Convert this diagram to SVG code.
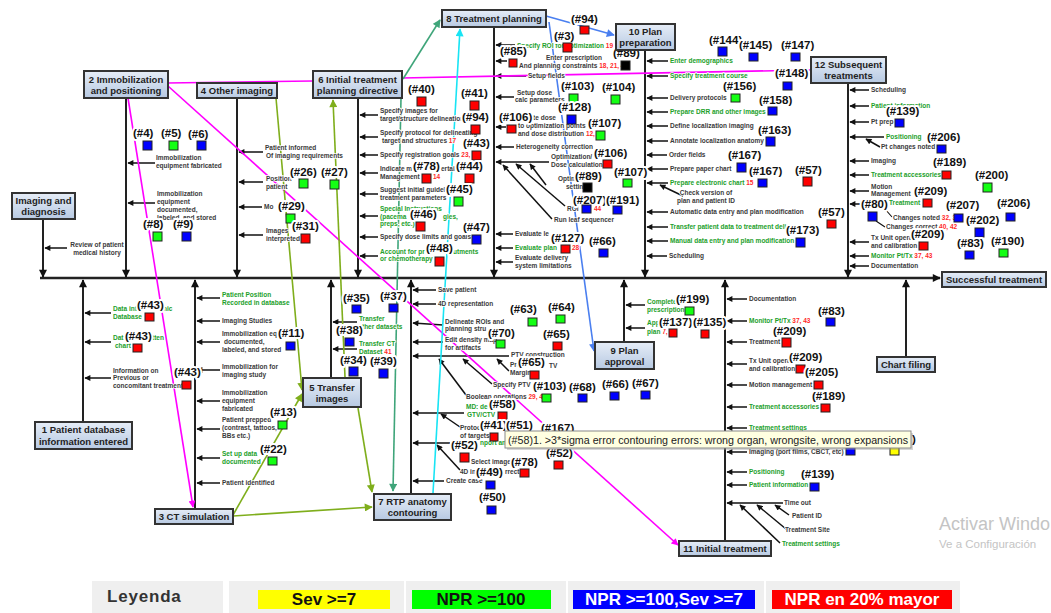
<svg xmlns="http://www.w3.org/2000/svg" width="1051" height="613" viewBox="0 0 1051 613">
<defs>
<linearGradient id="bg" x1="0" y1="0" x2="0" y2="1"><stop offset="0" stop-color="#e6edf7"/><stop offset="1" stop-color="#b7c9e2"/></linearGradient>
<marker id="a" viewBox="0 0 10 10" refX="9" refY="5" markerWidth="9" markerHeight="8" markerUnits="userSpaceOnUse" orient="auto"><path d="M0,0L10,5L0,10z" fill="#111"/></marker>
<marker id="s" viewBox="0 0 10 10" refX="9" refY="5" markerWidth="7" markerHeight="6" markerUnits="userSpaceOnUse" orient="auto"><path d="M0,0L10,5L0,10z" fill="#111"/></marker>
<marker id="mp" viewBox="0 0 10 10" refX="9" refY="5" markerWidth="8" markerHeight="7" markerUnits="userSpaceOnUse" orient="auto"><path d="M0,0L10,5L0,10z" fill="#ff00ff"/></marker>
<marker id="mb" viewBox="0 0 10 10" refX="9" refY="5" markerWidth="9" markerHeight="8" markerUnits="userSpaceOnUse" orient="auto"><path d="M0,0L10,5L0,10z" fill="#4a7ff0"/></marker>
<marker id="mc" viewBox="0 0 10 10" refX="9" refY="5" markerWidth="9" markerHeight="8" markerUnits="userSpaceOnUse" orient="auto"><path d="M0,0L10,5L0,10z" fill="#18e4f4"/></marker>
<marker id="mt" viewBox="0 0 10 10" refX="9" refY="5" markerWidth="9" markerHeight="8" markerUnits="userSpaceOnUse" orient="auto"><path d="M0,0L10,5L0,10z" fill="#3fa57a"/></marker>
<marker id="mo" viewBox="0 0 10 10" refX="9" refY="5" markerWidth="9" markerHeight="8" markerUnits="userSpaceOnUse" orient="auto"><path d="M0,0L10,5L0,10z" fill="#7fae1c"/></marker>
</defs>
<style>
.bx{fill:url(#bg);stroke:#333;stroke-width:2}
.bt{font:bold 9.5px "Liberation Sans",Arial,sans-serif;fill:#222;text-anchor:middle}
.sp{stroke:#222;stroke-width:2.4;fill:none}
.br{stroke:#222;stroke-width:2;fill:none}
.sa{stroke:#111;stroke-width:1.5;fill:none;marker-end:url(#s)}
.dl{stroke:#111;stroke-width:1.1;fill:none}
.t{font:bold 6.5px "Liberation Sans",Arial,sans-serif;fill:#3a3a3a;stroke:#fff;stroke-width:1.6px;paint-order:stroke;stroke-linejoin:round}
.g{fill:#22a02a}
.r{fill:#ff2a2a}
.lb{font:bold 11.5px "Liberation Sans",Arial,sans-serif;fill:#111;stroke:#fff;stroke-width:4px;paint-order:stroke;stroke-linejoin:round}
.q{stroke:#222;stroke-width:1}
.b{fill:#0000ff}.n{fill:#14ff14}.d{fill:#ff0000}.k{fill:#000}.y{fill:#ffff00}
.pk{stroke:#ff00ff;stroke-width:1.6;fill:none}
.bl{stroke:#4a7ff0;stroke-width:1.6;fill:none}
.cy{stroke:#18e4f4;stroke-width:1.6;fill:none}
.tl{stroke:#3fa57a;stroke-width:1.6;fill:none}
.ol{stroke:#7fae1c;stroke-width:1.6;fill:none}
.lg{font:bold 17px "Liberation Sans",Arial,sans-serif;text-anchor:middle}
</style>
<rect width="1051" height="613" fill="#fff"/>

<g id="connectors">
<path class="sp" d="M40,278H940" marker-end="url(#a)"/>
<path class="br" d="M43,219V277" marker-end="url(#a)"/>
<path class="br" d="M126,98V277" marker-end="url(#a)"/>
<path class="br" d="M237,97V277" marker-end="url(#a)"/>
<path class="br" d="M358,98V277" marker-end="url(#a)"/>
<path class="br" d="M494,27V277" marker-end="url(#a)"/>
<path class="br" d="M645,50V277" marker-end="url(#a)"/>
<path class="br" d="M848,83V277" marker-end="url(#a)"/>
<path class="br" d="M83,422V280" marker-end="url(#a)"/>
<path class="br" d="M195,509V280" marker-end="url(#a)"/>
<path class="br" d="M331,378V280" marker-end="url(#a)"/>
<path class="br" d="M411,494V280" marker-end="url(#a)"/>
<path class="br" d="M624,342V280" marker-end="url(#a)"/>
<path class="br" d="M725,541V280" marker-end="url(#a)"/>
<path class="br" d="M906,357V280" marker-end="url(#a)"/>
<path class="sa" d="M67,248H45"/>
<path class="sa" d="M155,163H128"/><path class="sa" d="M155,203H128"/>
<path class="sa" d="M263,152H239"/><path class="sa" d="M263,182H239"/><path class="sa" d="M262,207H239"/><path class="sa" d="M263,235H239"/>
<path class="sa" d="M378,115H360"/><path class="sa" d="M378,137H360"/><path class="sa" d="M378,155H360"/><path class="sa" d="M378,173H360"/><path class="sa" d="M378,194H360"/><path class="sa" d="M378,216H360"/><path class="sa" d="M378,237H360"/><path class="sa" d="M378,256H360"/>
<path class="sa" d="M515,45H496"/><path class="sa" d="M507,61H496"/><path class="sa" d="M526,76H496"/><path class="sa" d="M514,97H496"/><path class="sa" d="M506,127H496"/><path class="sa" d="M514,147H496"/><path class="sa" d="M549,162H496"/>
<path class="sa" d="M546,185L530,164"/><path class="sa" d="M565,206L516,164"/><path class="sa" d="M552,219L503,165"/>
<path class="sa" d="M513,234H496"/><path class="sa" d="M513,248H496"/><path class="sa" d="M513,262H496"/>
<path class="sa" d="M668,61H647"/><path class="sa" d="M668,76H647"/><path class="sa" d="M668,98H647"/><path class="sa" d="M668,112H647"/><path class="sa" d="M668,126H647"/><path class="sa" d="M668,141H647"/><path class="sa" d="M667,155H647"/><path class="sa" d="M668,169H647"/><path class="sa" d="M668,183H647"/><path class="sa" d="M683,196L660,185"/><path class="sa" d="M668,212H647"/><path class="sa" d="M668,227H647"/><path class="sa" d="M668,241H647"/><path class="sa" d="M667,256H647"/>
<path class="sa" d="M869,90H850"/><path class="sa" d="M869,106H850"/><path class="sa" d="M869,122H850"/><path class="sa" d="M884,137H850"/><path class="sa" d="M880,147L866,139"/><path class="sa" d="M869,161H850"/><path class="sa" d="M869,175H850"/><path class="sa" d="M869,191H850"/><path class="sa" d="M861,204H850"/><path class="sa" d="M869,242H850"/><path class="sa" d="M869,256H850"/><path class="sa" d="M869,266H850"/>
<path class="dl" d="M885,209L892,217M876,221L885,227"/>
<path class="sa" d="M111,313H85"/><path class="sa" d="M111,342H85"/><path class="sa" d="M111,378H85"/>
<path class="sa" d="M220,298H197"/><path class="sa" d="M220,321H197"/><path class="sa" d="M220,342H197"/><path class="sa" d="M220,370H197"/><path class="sa" d="M220,401H197"/><path class="sa" d="M220,429H197"/><path class="sa" d="M220,458H197"/><path class="sa" d="M220,483H197"/>
<path class="sa" d="M357,322H333"/><path class="sa" d="M357,349H333"/>
<path class="sa" d="M436,290H413"/><path class="sa" d="M436,304H413"/><path class="sa" d="M443,325L413,323"/><path class="sa" d="M443,342H413"/><path class="sa" d="M509,356H413"/><path class="sa" d="M464,413H413"/><path class="sa" d="M450,443H413"/><path class="sa" d="M444,481H413"/>
<path class="sa" d="M466,395L439,359"/><path class="sa" d="M492,384L463,359"/><path class="sa" d="M509,371L497,359"/><path class="sa" d="M460,427L441,414"/><path class="sa" d="M460,470L437,445"/>
<path class="sa" d="M645,305H626"/><path class="sa" d="M645,328H626"/>
<path class="sa" d="M747,299H727"/><path class="sa" d="M747,321H727"/><path class="sa" d="M747,342H727"/><path class="sa" d="M747,364H727"/><path class="sa" d="M747,385H727"/><path class="sa" d="M747,407H727"/><path class="sa" d="M747,428H727"/><path class="sa" d="M747,452H727"/><path class="sa" d="M747,472H727"/><path class="sa" d="M747,485H727"/><path class="sa" d="M783,503H727"/>
<path class="sa" d="M780,543L740,505"/><path class="sa" d="M786,529L757,505"/><path class="sa" d="M789,515L775,505"/>
<path class="pk" d="M167,83L313,81"/>
<path class="pk" d="M402,78L810,70"/>
<path class="pk" d="M128,98L193,507" marker-end="url(#mp)"/>
<path class="pk" d="M168,86L678,545" marker-end="url(#mp)"/>
<path class="bl" d="M546,16L614,35" marker-end="url(#mb)"/>
<path class="bl" d="M549,22L594,351" stroke-width="1.3" marker-end="url(#mb)"/>
<path class="cy" d="M433,493L460,29" marker-end="url(#mc)"/>
<path class="tl" d="M403,79L440,20" marker-end="url(#mt)"/>
<path class="tl" d="M401,98L393,491" marker-end="url(#mt)"/>
<path class="ol" d="M276,98L302,390" marker-end="url(#mo)"/>
<path class="ol" d="M233,515L302,394" marker-end="url(#mo)"/>
<path class="ol" d="M233,516L372,507" marker-end="url(#mo)"/>
<path class="ol" d="M345,377L333,100" marker-end="url(#mo)"/>
<path class="ol" d="M358,408L372,492" marker-end="url(#mo)"/>
</g>

<g id="texts">
<text class="t" x="97" y="247" text-anchor="middle">Review of patient</text>
<text class="t" x="97" y="255" text-anchor="middle">medical history</text>
<text class="t" x="156" y="160">Immobilization</text><text class="t" x="156" y="168">equipment fabricated</text>
<text class="t" x="157" y="196">Immobilization</text><text class="t" x="157" y="204">equipment</text><text class="t" x="157" y="212">documented,</text><text class="t" x="157" y="220">labeled, and stored</text>
<text class="t" x="265" y="150">Patient informed</text><text class="t" x="266" y="158">Of imaging requirements</text>
<text class="t" x="266" y="181">Position</text><text class="t" x="266" y="189">patient</text>
<text class="t" x="264" y="209">Mo</text>
<text class="t" x="266" y="233">Images</text><text class="t" x="266" y="241">interpreted</text>
<text class="t" x="380" y="113">Specify images for</text><text class="t" x="380" y="121">target/structure delineation</text>
<text class="t" x="380" y="135">Specify protocol for delineating</text><text class="t" x="382" y="143">target and structures <tspan class="r">17</tspan></text>
<text class="t" x="380" y="157">Specify registration goals <tspan class="r">23,</tspan></text>
<text class="t" x="380" y="171">Indicate m</text><text class="t" x="441" y="171">ertai</text><text class="t" x="380" y="179">Management</text><text class="t r" x="433" y="179">14</text>
<text class="t" x="380" y="192">Suggest initial guidel</text><text class="t" x="380" y="200">treatment parameters</text>
<text class="t g" x="380" y="211">Special Instructions</text><text class="t g" x="380" y="219">(pacema</text><text class="t g" x="443" y="219">gies,</text><text class="t g" x="380" y="226">preps, etc.)</text>
<text class="t" x="380" y="239">Specify dose limits and goals</text>
<text class="t g" x="380" y="254">Account for pr</text><text class="t g" x="453" y="254">utments</text><text class="t g" x="380" y="261">or chemotherapy</text>
<text class="t" x="517" y="48"><tspan class="g">Specify ROI for optimization</tspan><tspan class="r"> 19</tspan></text>
<text class="t" x="546" y="60">Enter prescription</text>
<text class="t" x="519" y="68">And planning constraints <tspan class="r">18, 21, 4</tspan></text>
<text class="t" x="528" y="78">Setup fields</text>
<text class="t" x="517" y="95">Setup dose</text><text class="t" x="515" y="102">calc parameters</text>
<text class="t" x="510" y="120">Calculate dose</text><text class="t" x="518" y="128">to optimization points</text><text class="t" x="518" y="136">and dose distribution <tspan class="r">12,</tspan></text>
<text class="t" x="516" y="149">Heterogeneity correction</text>
<text class="t" x="551" y="159">Optimization/</text><text class="t" x="551" y="167">Dose calculation</text>
<text class="t" x="558" y="181">Optimization</text><text class="t" x="566" y="189">settings</text>
<text class="t" x="567" y="211">ROI</text><text class="t r" x="594" y="211">44</text>
<text class="t" x="554" y="222">Run leaf sequencer</text>
<text class="t" x="515" y="236">Evaluate le</text>
<text class="t" x="515" y="250"><tspan class="g">Evaluate plan</tspan></text><text class="t r" x="572" y="250">28</text>
<text class="t" x="515" y="260">Evaluate delivery</text><text class="t" x="515" y="268">system limitations</text>
<text class="t g" x="670" y="63">Enter demographics</text>
<text class="t g" x="670" y="78">Specify treatment course</text>
<text class="t" x="670" y="100">Delivery protocols</text>
<text class="t g" x="670" y="114">Prepare DRR and other images</text>
<text class="t" x="670" y="128">Define localization imaging</text>
<text class="t" x="670" y="143">Annotate localization anatomy</text>
<text class="t" x="669" y="157">Order fields</text>
<text class="t" x="670" y="171">Prepare paper chart</text>
<text class="t" x="670" y="185"><tspan class="g">Prepare electronic chart</tspan><tspan class="r"> 15</tspan></text>
<text class="t" x="706" y="195" text-anchor="middle">Check version of</text><text class="t" x="706" y="203" text-anchor="middle">plan and patient ID</text>
<text class="t" x="670" y="214">Automatic  data entry and plan modification</text>
<text class="t g" x="670" y="229">Transfer patient data to treatment deli</text>
<text class="t g" x="670" y="243">Manual data entry and plan modification</text>
<text class="t" x="669" y="258">Scheduling</text>
<text class="t" x="871" y="92">Scheduling</text>
<text class="t g" x="871" y="108">Patient information</text>
<text class="t" x="871" y="124">Pt prep</text>
<text class="t g" x="886" y="139">Positioning</text><text class="t" x="881" y="149">Pt changes noted</text>
<text class="t" x="871" y="163">Imaging</text>
<text class="t g" x="871" y="177">Treatment accessories</text>
<text class="t" x="871" y="189">Motion</text><text class="t" x="871" y="196">Management</text>
<text class="t g" x="889" y="205">Treatment</text>
<text class="t" x="893" y="220">Changes noted <tspan class="r">32, 3</tspan></text>
<text class="t" x="886" y="229">Changes correct <tspan class="r">40, 42</tspan></text>
<text class="t" x="871" y="240">Tx Unit opera</text><text class="t" x="871" y="248">and calibration</text>
<text class="t" x="871" y="258"><tspan class="g">Monitor Pt/Tx</tspan><tspan class="r"> 37, 43</tspan></text>
<text class="t" x="871" y="268">Documentation</text>
<text class="t g" x="113" y="311">Data int</text><text class="t g" x="163" y="311">nic</text><text class="t g" x="113" y="319">Database</text>
<text class="t g" x="113" y="340">Dat</text><text class="t g" x="152" y="340">tten</text><text class="t g" x="115" y="348">chart</text>
<text class="t" x="113" y="373">Information on</text><text class="t" x="113" y="380">Previous or</text><text class="t" x="113" y="388">concomitant treatment</text>
<text class="t g" x="222" y="297">Patient Position</text><text class="t g" x="222" y="305">Recorded in database</text>
<text class="t" x="222" y="323">Imaging Studies</text>
<text class="t" x="222" y="336">Immobilization eq</text><text class="t" x="224" y="344">documented,</text><text class="t" x="222" y="352">labeled, and stored</text>
<text class="t" x="222" y="369">Immobilization for</text><text class="t" x="222" y="377">imaging study</text>
<text class="t" x="222" y="395">Immobilization</text><text class="t" x="222" y="403">equipment</text><text class="t" x="222" y="411">fabricated</text>
<text class="t" x="222" y="422">Patient prepped</text><text class="t" x="222" y="430">(contrast, tattoos,</text><text class="t" x="222" y="438">BBs etc.)</text>
<text class="t g" x="222" y="456">Set up data</text><text class="t g" x="222" y="464">documented</text>
<text class="t" x="222" y="485">Patient identified</text>
<text class="t g" x="359" y="321">Transfer</text><text class="t g" x="358" y="329">other datasets</text>
<text class="t g" x="359" y="346">Transfer CT</text><text class="t" x="359" y="354"><tspan class="g">Dataset</tspan><tspan class="r"> 41</tspan></text>
<text class="t" x="438" y="292">Save patient</text>
<text class="t" x="438" y="306">4D representation</text>
<text class="t" x="445" y="324">Delineate ROIs and</text><text class="t" x="445" y="331">planning stru</text>
<text class="t" x="445" y="342">Edit density map</text><text class="t" x="445" y="350">for artifacts</text>
<text class="t" x="511" y="357">PTV construction</text>
<text class="t" x="510" y="367">Prob</text><text class="t" x="549" y="368">TV</text><text class="t" x="510" y="375">Margin</text>
<text class="t" x="493" y="387">Specify PTV</text>
<text class="t" x="466" y="399">Boolean operations <tspan class="r">29, 4</tspan></text>
<text class="t g" x="466" y="409">MD: de</text><text class="t g" x="467" y="417">GTV/CTV</text>
<text class="t" x="460" y="430">Protoc</text><text class="t" x="460" y="438">of targets</text>
<text class="t g" x="480" y="445">nport an</text>
<text class="t" x="471" y="464">Select image</text>
<text class="t" x="460" y="474">4D im</text><text class="t" x="505" y="474">rrect</text>
<text class="t" x="446" y="483">Create case</text>
<text class="t g" x="647" y="304">Complete</text><text class="t g" x="647" y="312">prescription</text>
<text class="t g" x="647" y="325">App</text><text class="t" x="647" y="334"><tspan class="g">plan</tspan><tspan class="r"> 7,</tspan></text>
<text class="t" x="749" y="301">Documentation</text>
<text class="t" x="749" y="323"><tspan class="g">Monitor Pt/Tx</tspan><tspan class="r"> 37, 43</tspan></text>
<text class="t" x="749" y="344">Treatment</text>
<text class="t" x="749" y="363">Tx Unit operation</text><text class="t" x="749" y="371">and calibration</text>
<text class="t" x="749" y="387">Motion management</text>
<text class="t g" x="749" y="409">Treatment accessories</text>
<text class="t g" x="749" y="430">Treatment settings</text>
<text class="t" x="749" y="454">Imaging (port films, CBCT, etc)</text>
<text class="t g" x="749" y="474">Positioning</text>
<text class="t g" x="749" y="487">Patient information</text>
<text class="t" x="784" y="505">Time out</text>
<text class="t" x="792" y="518">Patient ID</text>
<text class="t" x="785" y="532">Treatment Site</text>
<text class="t g" x="782" y="546">Treatment settings</text>
</g>

<g id="markers">
<text class="lb" x="133" y="137">(#4)</text><rect class="q b" x="143" y="141" width="9" height="9"/>
<text class="lb" x="161" y="137">(#5)</text><rect class="q n" x="169" y="141" width="9" height="9"/>
<text class="lb" x="188" y="138">(#6)</text><rect class="q b" x="197" y="141" width="9" height="9"/>
<text class="lb" x="143" y="228">(#8)</text><rect class="q n" x="153" y="232" width="9" height="9"/>
<text class="lb" x="173" y="228">(#9)</text><rect class="q b" x="182" y="232" width="9" height="9"/>
<text class="lb" x="290" y="176">(#26)</text><rect class="q n" x="299" y="179" width="9" height="9"/>
<text class="lb" x="321" y="176">(#27)</text><rect class="q n" x="330" y="180" width="9" height="9"/>
<text class="lb" x="278" y="210">(#29)</text><rect class="q n" x="286" y="214" width="9" height="9"/>
<text class="lb" x="292" y="230">(#31)</text><rect class="q d" x="301" y="234" width="9" height="9"/>
<text class="lb" x="408" y="93">(#40)</text><rect class="q d" x="417" y="97" width="9" height="9"/>
<text class="lb" x="461" y="97">(#41)</text><rect class="q d" x="470" y="101" width="9" height="9"/>
<text class="lb" x="462" y="121">(#94)</text><rect class="q d" x="471" y="125" width="9" height="9"/>
<text class="lb" x="463" y="147">(#43)</text><rect class="q d" x="472" y="151" width="9" height="9"/>
<text class="lb" x="413" y="170">(#78)</text><rect class="q d" x="422" y="174" width="9" height="9"/>
<text class="lb" x="456" y="170">(#44)</text><rect class="q d" x="465" y="174" width="9" height="9"/>
<text class="lb" x="446" y="193">(#45)</text><rect class="q n" x="454" y="197" width="9" height="9"/>
<text class="lb" x="410" y="218">(#46)</text><rect class="q d" x="416" y="222" width="9" height="9"/>
<text class="lb" x="463" y="231">(#47)</text><rect class="q b" x="472" y="235" width="9" height="9"/>
<text class="lb" x="426" y="252">(#48)</text><rect class="q d" x="435" y="257" width="9" height="9"/>
<text class="lb" x="571" y="23">(#94)</text><rect class="q d" x="580" y="26" width="9" height="8"/>
<text class="lb" x="554" y="40">(#3)</text><rect class="q d" x="563" y="43" width="9" height="9"/>
<text class="lb" x="500" y="55">(#85)</text><rect class="q d" x="509" y="59" width="8" height="8"/>
<text class="lb" x="613" y="57">(#89)</text><rect class="q k" x="621" y="61" width="9" height="9"/>
<text class="lb" x="561" y="90">(#103)</text><rect class="q n" x="569" y="94" width="9" height="9"/>
<text class="lb" x="602" y="91">(#104)</text><rect class="q n" x="611" y="95" width="9" height="9"/>
<text class="lb" x="558" y="111">(#128)</text><rect class="q b" x="567" y="115" width="9" height="9"/>
<text class="lb" x="499" y="121">(#106)</text><rect class="q d" x="507" y="125" width="9" height="8"/>
<text class="lb" x="588" y="127">(#107)</text><rect class="q n" x="596" y="131" width="9" height="9"/>
<text class="lb" x="594" y="157">(#106)</text><rect class="q d" x="603" y="160" width="9" height="8"/>
<text class="lb" x="575" y="180">(#89)</text><rect class="q k" x="583" y="183" width="9" height="9"/>
<text class="lb" x="614" y="176">(#107)</text><rect class="q n" x="623" y="179" width="9" height="8"/>
<text class="lb" x="573" y="204">(#207)</text><rect class="q b" x="582" y="205" width="9" height="8"/>
<text class="lb" x="606" y="204">(#191)</text><rect class="q b" x="613" y="206" width="9" height="8"/>
<text class="lb" x="551" y="242">(#127)</text><rect class="q d" x="561" y="245" width="9" height="8"/>
<text class="lb" x="589" y="245">(#66)</text><rect class="q b" x="599" y="249" width="9" height="8"/>
<text class="lb" x="709" y="44">(#144)</text><rect class="q b" x="718" y="47" width="9" height="9"/>
<text class="lb" x="739" y="49">(#145)</text><rect class="q b" x="749" y="53" width="9" height="8"/>
<text class="lb" x="781" y="49">(#147)</text><rect class="q b" x="791" y="53" width="9" height="8"/>
<text class="lb" x="775" y="77">(#148)</text><rect class="q b" x="783" y="82" width="9" height="8"/>
<text class="lb" x="723" y="90">(#156)</text><rect class="q n" x="731" y="94" width="9" height="8"/>
<text class="lb" x="759" y="104">(#158)</text><rect class="q b" x="768" y="107" width="9" height="8"/>
<text class="lb" x="758" y="134">(#163)</text><rect class="q b" x="766" y="137" width="9" height="9"/>
<text class="lb" x="728" y="159">(#167)</text><rect class="q b" x="737" y="163" width="9" height="9"/>
<text class="lb" x="749" y="175">(#167)</text><rect class="q b" x="758" y="179" width="9" height="8"/>
<text class="lb" x="795" y="174">(#57)</text><rect class="q d" x="803" y="177" width="9" height="9"/>
<text class="lb" x="818" y="216">(#57)</text><rect class="q d" x="827" y="220" width="9" height="8"/>
<text class="lb" x="786" y="234">(#173)</text><rect class="q b" x="796" y="238" width="9" height="9"/>
<text class="lb" x="886" y="115">(#139)</text><rect class="q b" x="895" y="119" width="9" height="8"/>
<text class="lb" x="927" y="141">(#206)</text><rect class="q b" x="937" y="145" width="9" height="8"/>
<text class="lb" x="933" y="166">(#189)</text><rect class="q d" x="942" y="171" width="9" height="8"/>
<text class="lb" x="975" y="179">(#200)</text><rect class="q n" x="983" y="183" width="9" height="9"/>
<text class="lb" x="914" y="195">(#209)</text><rect class="q d" x="923" y="199" width="9" height="8"/>
<text class="lb" x="861" y="208">(#80)</text><rect class="q b" x="868" y="212" width="9" height="9"/>
<text class="lb" x="946" y="209">(#207)</text><rect class="q b" x="954" y="214" width="9" height="8"/>
<text class="lb" x="997" y="207">(#206)</text><rect class="q b" x="1006" y="213" width="9" height="8"/>
<text class="lb" x="966" y="224">(#202)</text><rect class="q b" x="975" y="228" width="9" height="9"/>
<text class="lb" x="911" y="238">(#209)</text><rect class="q d" x="919" y="242" width="9" height="8"/>
<text class="lb" x="957" y="247">(#83)</text><rect class="q b" x="965" y="251" width="9" height="8"/>
<text class="lb" x="991" y="245">(#190)</text><rect class="q n" x="999" y="249" width="9" height="8"/>
<text class="lb" x="137" y="309">(#43)</text><rect class="q d" x="145" y="313" width="9" height="8"/>
<text class="lb" x="125" y="340">(#43)</text><rect class="q d" x="133" y="344" width="9" height="8"/>
<text class="lb" x="174" y="376">(#43)</text><rect class="q d" x="182" y="381" width="9" height="8"/>
<text class="lb" x="278" y="337">(#11)</text><rect class="q b" x="286" y="342" width="9" height="8"/>
<text class="lb" x="270" y="416">(#13)</text><rect class="q n" x="278" y="421" width="9" height="8"/>
<text class="lb" x="260" y="453">(#22)</text><rect class="q n" x="268" y="457" width="9" height="8"/>
<text class="lb" x="343" y="302">(#35)</text><rect class="q b" x="352" y="305" width="9" height="8"/>
<text class="lb" x="380" y="300">(#37)</text><rect class="q b" x="389" y="304" width="9" height="8"/>
<text class="lb" x="336" y="334">(#38)</text><rect class="q b" x="345" y="338" width="9" height="8"/>
<text class="lb" x="340" y="364">(#34)</text><rect class="q b" x="349" y="367" width="9" height="9"/>
<text class="lb" x="370" y="365">(#39)</text><rect class="q b" x="379" y="369" width="9" height="9"/>
<text class="lb" x="510" y="313">(#63)</text><rect class="q n" x="528" y="318" width="9" height="8"/>
<text class="lb" x="548" y="311">(#64)</text><rect class="q n" x="556" y="315" width="9" height="8"/>
<text class="lb" x="488" y="337">(#70)</text><rect class="q n" x="496" y="340" width="9" height="8"/>
<text class="lb" x="543" y="338">(#65)</text><rect class="q d" x="553" y="342" width="9" height="8"/>
<text class="lb" x="518" y="366">(#65)</text><rect class="q d" x="530" y="371" width="9" height="8"/>
<text class="lb" x="533" y="390">(#103)</text><rect class="q n" x="542" y="394" width="9" height="8"/>
<text class="lb" x="569" y="391">(#68)</text><rect class="q b" x="578" y="394" width="9" height="8"/>
<text class="lb" x="602" y="388">(#66)</text><rect class="q b" x="610" y="392" width="9" height="8"/>
<text class="lb" x="632" y="387">(#67)</text><rect class="q b" x="641" y="391" width="9" height="8"/>
<text class="lb" x="489" y="408">(#58)</text><rect class="q d" x="498" y="412" width="9" height="8"/>
<text class="lb" x="480" y="429">(#41)</text><rect class="q d" x="490" y="433" width="8" height="8"/>
<text class="lb" x="506" y="429">(#51)</text>
<text class="lb" x="541" y="432">(#167)</text>
<text class="lb" x="451" y="449">(#52)</text><rect class="q d" x="460" y="453" width="9" height="9"/>
<text class="lb" x="546" y="457">(#52)</text><rect class="q d" x="554" y="461" width="9" height="8"/>
<text class="lb" x="511" y="466">(#78)</text><rect class="q d" x="520" y="469" width="9" height="8"/>
<text class="lb" x="476" y="476">(#49)</text><rect class="q b" x="486" y="481" width="9" height="8"/>
<text class="lb" x="479" y="501">(#50)</text><rect class="q b" x="487" y="506" width="9" height="8"/>
<text class="lb" x="676" y="303">(#199)</text><rect class="q n" x="685" y="307" width="9" height="8"/>
<text class="lb" x="659" y="326">(#137)</text><rect class="q d" x="669" y="329" width="8" height="8"/>
<text class="lb" x="693" y="326">(#135)</text><rect class="q d" x="701" y="330" width="8" height="8"/>
<text class="lb" x="818" y="315">(#83)</text><rect class="q b" x="826" y="318" width="9" height="8"/>
<text class="lb" x="773" y="335">(#209)</text><rect class="q d" x="782" y="338" width="9" height="9"/>
<text class="lb" x="789" y="361">(#209)</text><rect class="q d" x="796" y="365" width="9" height="8"/>
<text class="lb" x="805" y="376">(#205)</text><rect class="q d" x="814" y="381" width="9" height="8"/>
<text class="lb" x="812" y="400">(#189)</text><rect class="q d" x="821" y="404" width="9" height="8"/>
<text class="lb" x="912" y="443">)</text>
<rect class="q b" x="846" y="447" width="9" height="8"/><rect class="q y" x="890" y="447" width="9" height="8"/>
<text class="lb" x="801" y="478">(#139)</text><rect class="q b" x="810" y="483" width="9" height="8"/>
</g>

<g id="n-imaging"><rect class="bx" x="12" y="193" width="63" height="26"/><text class="bt" x="43.5" y="204">Imaging and</text><text class="bt" x="43.5" y="215">diagnosis</text></g>
<g id="n2"><rect class="bx" x="84" y="71" width="84" height="27"/><text class="bt" x="126" y="82.5">2 Immobilization</text><text class="bt" x="126" y="93.5">and positioning</text></g>
<g id="n4"><rect class="bx" x="197" y="83" width="80" height="15"/><text class="bt" x="237" y="94">4 Other imaging</text></g>
<g id="n6"><rect class="bx" x="313" y="71" width="89" height="27"/><text class="bt" x="357.5" y="82.5">6 Initial treatment</text><text class="bt" x="357.5" y="93.5">planning directive</text></g>
<g id="n8"><rect class="bx" x="442" y="10" width="104" height="17"/><text class="bt" x="494" y="22">8 Treatment planning</text></g>
<g id="n10"><rect class="bx" x="616" y="24" width="59" height="26"/><text class="bt" x="645.5" y="35">10 Plan</text><text class="bt" x="645.5" y="46">preparation</text></g>
<g id="n12"><rect class="bx" x="811" y="57" width="75" height="26"/><text class="bt" x="848.5" y="68">12 Subsequent</text><text class="bt" x="848.5" y="79">treatments</text></g>
<g id="n-success"><rect class="bx" x="942" y="272" width="104" height="15"/><text class="bt" x="994" y="283" font-size="9.2">Successful treatment</text></g>
<g id="n1"><rect class="bx" x="35" y="422" width="97" height="27"/><text class="bt" x="83.5" y="433">1 Patient database</text><text class="bt" x="83.5" y="444.5">information entered</text></g>
<g id="n3"><rect class="bx" x="155" y="509" width="78" height="15"/><text class="bt" x="194" y="520">3 CT simulation</text></g>
<g id="n5"><rect class="bx" x="303" y="378" width="58" height="29"/><text class="bt" x="332" y="391">5 Transfer</text><text class="bt" x="332" y="402">images</text></g>
<g id="n7"><rect class="bx" x="374" y="494" width="77" height="26"/><text class="bt" x="412.5" y="505">7 RTP anatomy</text><text class="bt" x="412.5" y="516">contouring</text></g>
<g id="n9"><rect class="bx" x="595" y="342" width="59" height="27"/><text class="bt" x="624.5" y="353.5">9 Plan</text><text class="bt" x="624.5" y="365">approval</text></g>
<g id="n11"><rect class="bx" x="679" y="541" width="92" height="15"/><text class="bt" x="725" y="552">11 Initial treatment</text></g>
<g id="n-chart"><rect class="bx" x="877" y="357" width="58" height="15"/><text class="bt" x="906" y="368">Chart filing</text></g>

<g id="tooltip">
<rect x="507" y="433" width="406" height="17" fill="#999" opacity=".4"/>
<rect x="505" y="431" width="406" height="17" fill="#ffffe1" stroke="#8a8a8a" stroke-width="1"/>
<text x="508" y="443.5" font-family="'Liberation Sans',Arial,sans-serif" font-size="11" fill="#222" textLength="400" lengthAdjust="spacingAndGlyphs">(#58)1. &gt;3*sigma error contouring errors: wrong organ, wrongsite, wrong expansions</text>
</g>

<g id="watermark" font-family="'Liberation Sans',Arial,sans-serif" fill="#c4c4c4">
<text x="939" y="530" font-size="18">Activar Windo</text>
<text x="939" y="548" font-size="11.5">Ve a Configuración</text>
</g>

<g id="legend">
<rect x="92" y="581" width="131" height="32" fill="#efefef"/>
<text x="107" y="602" font-family="'Liberation Sans',Arial,sans-serif" font-weight="bold" font-size="17" letter-spacing="0.8" fill="#333">Leyenda</text>
<rect x="229" y="581" width="175" height="32" fill="#efefef"/>
<rect x="258" y="590" width="132" height="19" fill="#ffff00"/>
<text class="lg" x="324" y="605" fill="#111">Sev &gt;=7</text>
<rect x="406" y="581" width="160" height="32" fill="#efefef"/>
<rect x="412" y="590" width="139" height="19" fill="#00ff00"/>
<text class="lg" x="481" y="605" fill="#111">NPR &gt;=100</text>
<rect x="568" y="581" width="196" height="32" fill="#efefef"/>
<rect x="573" y="590" width="182" height="19" fill="#0000ff"/>
<text class="lg" x="664" y="605" fill="#fff">NPR &gt;=100,Sev &gt;=7</text>
<rect x="766" y="581" width="194" height="32" fill="#efefef"/>
<rect x="772" y="590" width="180" height="19" fill="#ff0000"/>
<text class="lg" x="862" y="605" fill="#fff">NPR en 20% mayor</text>
</g>
</svg>
